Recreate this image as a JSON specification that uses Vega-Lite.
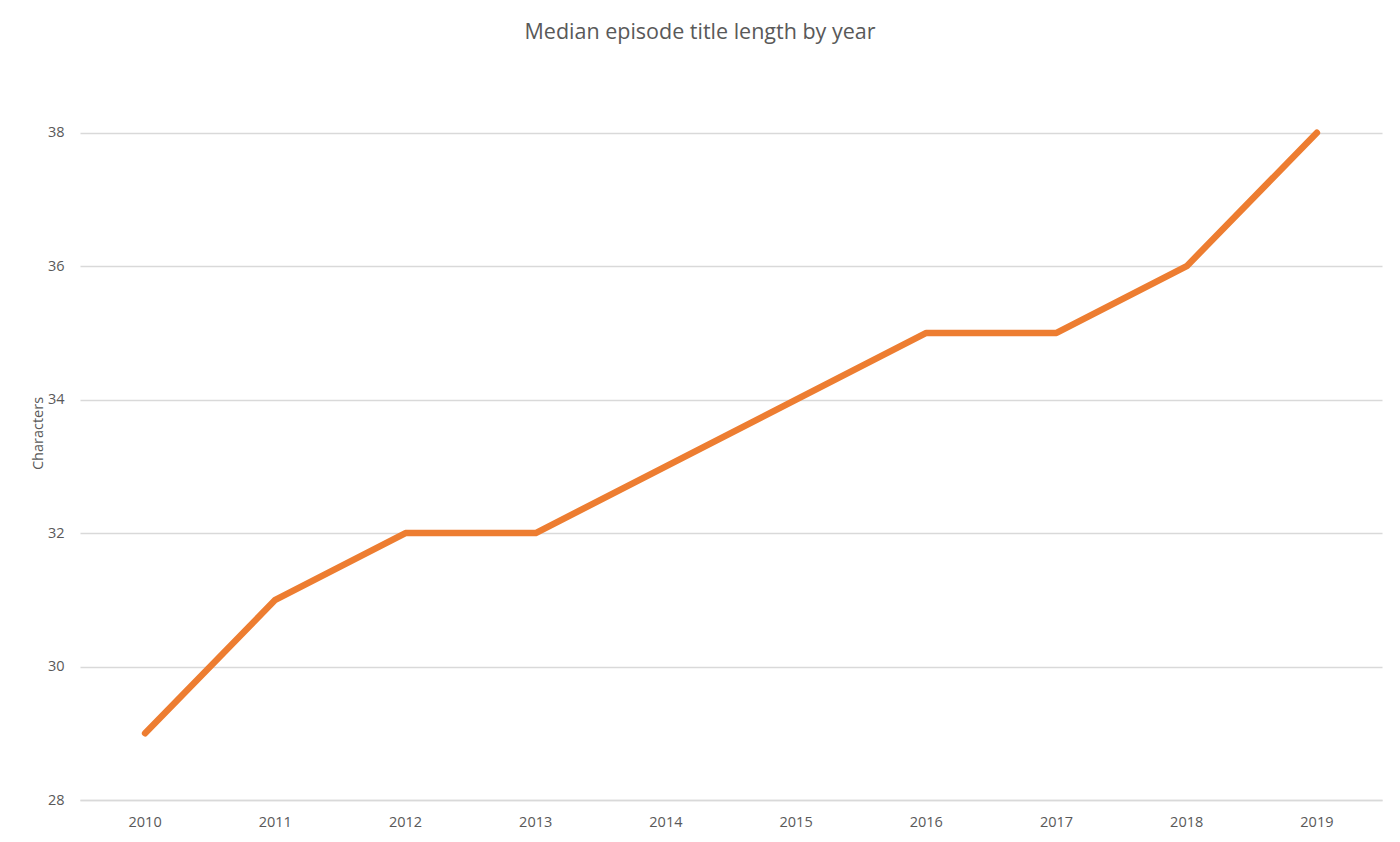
{
  "$schema": "https://vega.github.io/schema/vega-lite/v6.json",
  "autosize": {"type": "none"},
  "padding": {"left": 80, "top": 66, "right": 18, "bottom": 42},
  "width": 1302,
  "height": 734,
  "background": "white",
  "title": {
    "text": "Median episode title length by year",
    "font": "Open Sans",
    "fontSize": 21.5,
    "fontWeight": "normal",
    "color": "#595959",
    "anchor": "middle",
    "dx": -31,
    "offset": 23
  },
  "data": {
    "values": [
      {"year": "2010", "chars": 29},
      {"year": "2011", "chars": 31},
      {"year": "2012", "chars": 32},
      {"year": "2013", "chars": 32},
      {"year": "2014", "chars": 33},
      {"year": "2015", "chars": 34},
      {"year": "2016", "chars": 35},
      {"year": "2017", "chars": 35},
      {"year": "2018", "chars": 36},
      {"year": "2019", "chars": 38}
    ]
  },
  "mark": {"type": "line", "color": "#ED7D31", "strokeWidth": 6.5, "strokeCap": "round", "strokeJoin": "round"},
  "encoding": {
    "x": {
      "field": "year", "type": "ordinal",
      "scale": {"type": "band", "paddingInner": 0, "paddingOuter": 0},
      "axis": {"title": null, "labelAngle": 0, "ticks": false, "grid": false, "domainColor": "#D9D9D9", "domainWidth": 1.3, "labelPadding": 15, "labelFont": "Open Sans", "labelFontSize": 14.5, "labelColor": "#595959"}
    },
    "y": {
      "field": "chars", "type": "quantitative",
      "scale": {"domain": [28, 39], "nice": false, "zero": false},
      "axis": {"title": "Characters", "values": [28, 30, 32, 34, 36, 38], "ticks": false, "domain": false, "gridColor": "#D9D9D9", "gridWidth": 1.3, "labelPadding": 16, "labelFont": "Open Sans", "labelFontSize": 14.5, "labelColor": "#595959", "titleFont": "Open Sans", "titleFontSize": 14.5, "titleFontWeight": "normal", "titleColor": "#595959", "titlePadding": 2}
    }
  },
  "config": {"view": {"stroke": null}}
}
